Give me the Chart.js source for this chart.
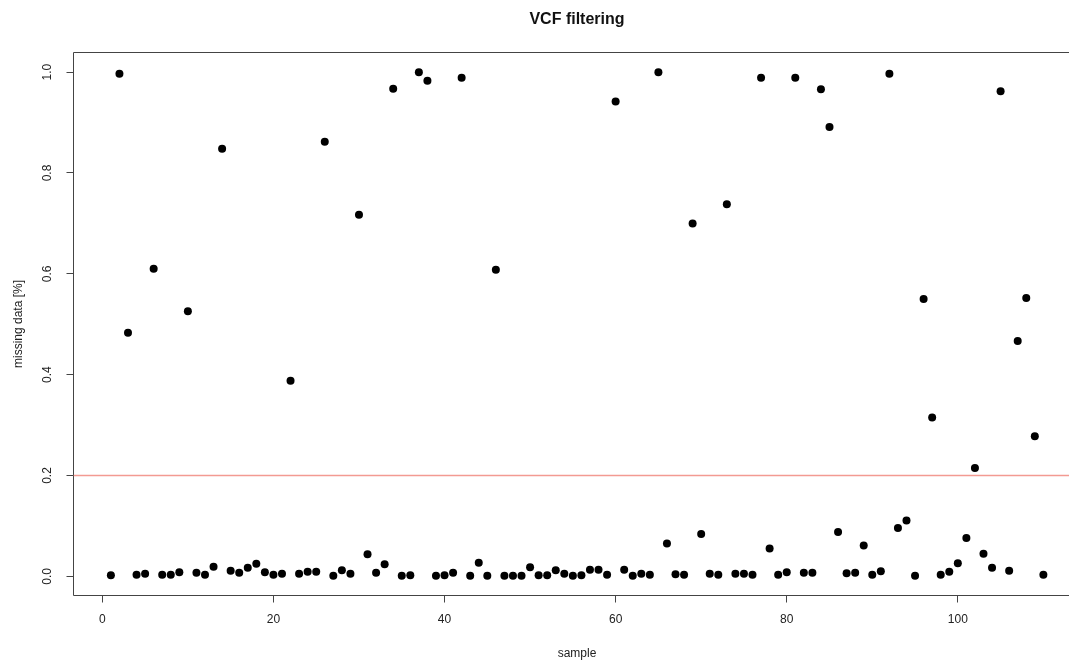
<!DOCTYPE html>
<html>
<head>
<meta charset="utf-8">
<title>VCF filtering</title>
<script src="https://cdn.jsdelivr.net/npm/chart.js"></script>
<style>
    html, body { margin: 0; padding: 0; background: #fff; overflow: hidden; }
    #wrap { width: 1069px; height: 661px; overflow: hidden; }
</style>
</head>
<body>
<div id="wrap"><canvas id="myChart" width="1100" height="661"></canvas></div>
<script>
// sample index (x) and fraction of missing data (y)
const samples = [
    1, 2, 3, 4, 5, 6, 7, 8, 9, 10, 11, 12, 13, 14, 15, 16, 17, 18, 19, 20,
    21, 22, 23, 24, 25, 26, 27, 28, 29, 30, 31, 32, 33, 34, 35, 36, 37, 38, 39, 40,
    41, 42, 43, 44, 45, 46, 47, 48, 49, 50, 51, 52, 53, 54, 55, 56, 57, 58, 59, 60,
    61, 62, 63, 64, 65, 66, 67, 68, 69, 70, 71, 72, 73, 74, 75, 76, 77, 78, 79, 80,
    81, 82, 83, 84, 85, 86, 87, 88, 89, 90, 91, 92, 93, 94, 95, 96, 97, 98, 99, 100,
    101, 102, 103, 104, 105, 106, 107, 108, 109, 110
];
const missing = [
    0.002, 0.997, 0.483, 0.003, 0.005, 0.610, 0.003, 0.003, 0.008, 0.526,
    0.007, 0.003, 0.019, 0.848, 0.011, 0.007, 0.017, 0.025, 0.008, 0.003,
    0.005, 0.388, 0.005, 0.009, 0.009, 0.862, 0.001, 0.012, 0.005, 0.717,
    0.044, 0.007, 0.024, 0.967, 0.001, 0.002, 1.000, 0.983, 0.001, 0.002,
    0.007, 0.989, 0.001, 0.027, 0.001, 0.608, 0.001, 0.001, 0.001, 0.018,
    0.002, 0.002, 0.012, 0.005, 0.001, 0.002, 0.013, 0.013, 0.003, 0.942,
    0.013, 0.001, 0.005, 0.003, 1.000, 0.065, 0.004, 0.003, 0.700, 0.084,
    0.005, 0.003, 0.738, 0.005, 0.005, 0.003, 0.989, 0.055, 0.003, 0.008,
    0.989, 0.007, 0.007, 0.966, 0.891, 0.088, 0.006, 0.007, 0.061, 0.003,
    0.010, 0.997, 0.096, 0.111, 0.001, 0.550, 0.315, 0.003, 0.009, 0.026,
    0.076, 0.215, 0.045, 0.017, 0.962, 0.011, 0.467, 0.552, 0.278, 0.003
];
const cutoff = 0.2;
const xTicks = [0, 20, 40, 60, 80, 100];
const yTicks = [0, 0.2, 0.4, 0.6, 0.8, 1.0];

// R style axis ranges (4% padding)
const xMin = -3.37, xMax = 114.34;
const yMin = -0.038, yMax = 1.039;

const points = samples.map((s, i) => ({ x: s, y: missing[i] }));

// box around the plot region, like R's box() (right side falls outside the window)
const frame = {
    id: 'frame',
    beforeDatasetsDraw(chart) {
        const { ctx, chartArea: a } = chart;
        ctx.save();
        ctx.strokeStyle = '#444';
        ctx.lineWidth = 1;
        ctx.beginPath();
        ctx.moveTo(a.right, a.top);
        ctx.lineTo(a.left, a.top);
        ctx.lineTo(a.left, a.bottom);
        ctx.lineTo(a.right, a.bottom);
        ctx.stroke();
        ctx.restore();
    }
};

Chart.defaults.font.family = '"Liberation Sans", Arial, Helvetica, sans-serif';
Chart.defaults.color = '#222';

const ctx = document.getElementById('myChart');

new Chart(ctx, {
    type: 'scatter',
    data: {
        datasets: [{
            label: 'cutoff',
            type: 'line',
            data: [{ x: xMin, y: cutoff }, { x: xMax, y: cutoff }],
            borderColor: '#f39a92',
            borderWidth: 1.3,
            pointRadius: 0,
            order: 2
        }, {
            label: 'missing data',
            data: points,
            pointRadius: 4,
            pointHoverRadius: 4,
            pointBackgroundColor: '#000',
            pointBorderWidth: 0,
            order: 1
        }]
    },
    options: {
        responsive: false,
        animation: false,
        layout: {
            padding: { left: 0, right: 19.5, top: 0, bottom: 0 }
        },
        plugins: {
            legend: { display: false },
            tooltip: { enabled: false },
            title: {
                display: true,
                fullSize: false,
                text: 'VCF filtering',
                color: '#111',
                font: { size: 16, weight: 'bold' },
                padding: { top: 10.4, bottom: 22.9 }
            }
        },
        scales: {
            x: {
                type: 'linear',
                min: xMin,
                max: xMax,
                afterBuildTicks: s => { s.ticks = xTicks.map(v => ({ value: v })); },
                afterFit: s => { s.height = 65.5; },
                border: { display: false },
                grid: {
                    drawOnChartArea: false,
                    drawTicks: true,
                    tickLength: 7,
                    tickColor: '#444'
                },
                ticks: {
                    padding: 10,
                    maxRotation: 0,
                    font: { size: 12 }
                },
                title: {
                    display: true,
                    text: 'sample',
                    font: { size: 12 },
                    padding: { top: 0, bottom: 0 }
                }
            },
            y: {
                type: 'linear',
                min: yMin,
                max: yMax,
                afterBuildTicks: s => { s.ticks = yTicks.map(v => ({ value: v })); },
                afterFit: s => { s.width = 73.5; },
                border: { display: false },
                grid: {
                    drawOnChartArea: false,
                    drawTicks: true,
                    tickLength: 7,
                    tickColor: '#444'
                },
                ticks: {
                    padding: 10,
                    minRotation: 90,
                    maxRotation: 90,
                    crossAlign: 'center',
                    font: { size: 12 },
                    callback: v => v.toFixed(1)
                },
                title: {
                    display: true,
                    text: 'missing data [%]',
                    font: { size: 12 },
                    padding: { top: 11, bottom: 0 }
                }
            }
        }
    },
    plugins: [frame]
});
</script>
</body>
</html>
